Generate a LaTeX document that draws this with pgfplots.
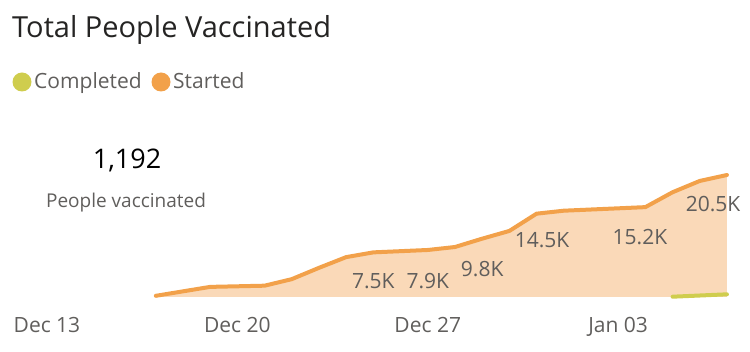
\documentclass[border=0pt]{standalone}
\usepackage{fontspec}
\setmainfont{Open Sans}
\usepackage{pgfplots}
\usepackage{pgfplotstable}
\pgfplotsset{compat=1.18}
\definecolor{started}{HTML}{F2A14A}
\definecolor{startedfill}{HTML}{FAD9B8}
\definecolor{completed}{HTML}{CFCD4E}
\definecolor{lbl}{HTML}{605E5C}
\definecolor{ttl}{HTML}{252423}
% day index from Dec 13, value in thousands
\pgfplotstableread{
day val
4  0.2
6  1.7
8  1.9
9  3.0
10 4.9
11 6.7
12 7.5
13 7.7
14 7.9
15 8.4
16 9.8
17 11.1
18 14.0
19 14.5
20 14.7
21 14.9
22 15.1
23 17.6
24 19.5
25 20.5
}\started
\pgfplotstableread{
day val
23 0.05
24 0.25
25 0.45
}\completed
\begin{document}
\begin{tikzpicture}[x=1pt,y=1pt]
\path[use as bounding box] (0,0) rectangle (750,351);
\node[anchor=base west, font=\fontsize{29}{30}\selectfont, text=ttl, inner sep=0] at (12,313) {Total People Vaccinated};
\fill[completed] (22,269) circle (9.5);
\node[anchor=base west, font=\fontsize{21}{22}\selectfont, text=lbl, inner sep=0] at (34,262) {Completed};
\fill[started] (161,269) circle (9.5);
\node[anchor=base west, font=\fontsize{21}{22}\selectfont, text=lbl, inner sep=0] at (173,262) {Started};
\node[anchor=base, font=\fontsize{27}{28}\selectfont, text=black, inner sep=0] at (127,182) {1,192};
\node[anchor=base, font=\fontsize{19}{20}\selectfont, text=lbl, inner sep=0] at (126,143) {People vaccinated};
\begin{axis}[
  at={(10pt,54pt)}, anchor=south west,
  scale only axis, width=730pt, height=147pt,
  xmin=-1.36, xmax=25.48, ymin=0, ymax=24.7,
  hide y axis,
  axis x line*=bottom,
  x axis line style={draw=none},
  major tick length=0pt,
  xtick={0,7,14,21},
  xticklabels={Dec 13, Dec 20, Dec 27, Jan 03},
  xticklabel style={anchor=base, yshift=-35pt, font=\fontsize{21}{22}\selectfont, text=lbl, inner sep=0pt},
  clip=false,
]
\addplot[draw=none, fill=startedfill] table[x=day,y=val] {\started} \closedcycle;
\addplot[started, line width=4pt, line join=round, line cap=round] table[x=day,y=val] {\started};
\addplot[completed, line width=4pt, line cap=round] table[x=day,y=val] {\completed};
\begin{scope}[every node/.style={font=\fontsize{21}{22}\selectfont, text=lbl, inner sep=0pt, anchor=center}]
\node at (axis cs:12,2.69) {7.5K};
\node at (axis cs:14,2.69) {7.9K};
\node at (axis cs:16,4.71) {9.8K};
\node at (axis cs:18.2,9.58) {14.5K};
\node at (axis cs:21.8,10.08) {15.2K};
\node at (axis cs:24.49,15.63) {20.5K};
\end{scope}
\end{axis}
\end{tikzpicture}
\end{document}
